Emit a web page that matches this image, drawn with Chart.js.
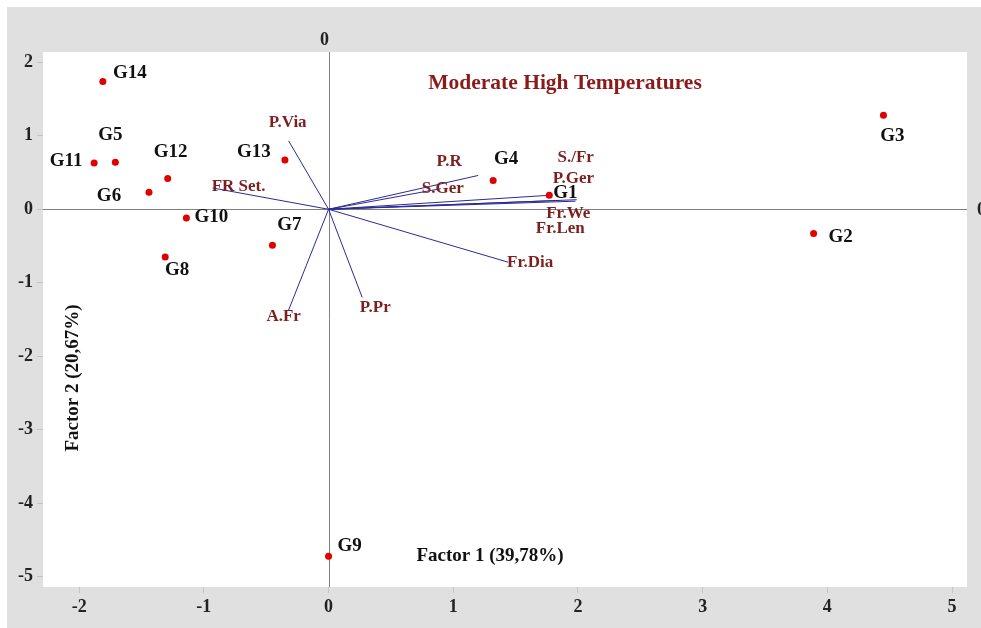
<!DOCTYPE html>
<html>
<head>
<meta charset="utf-8">
<script src="https://cdn.jsdelivr.net/npm/chart.js@4.4.1/dist/chart.umd.min.js"></script>
<style>
    body { margin: 0; background: #ffffff; }
    #wrap { position: absolute; left: 7px; top: 7px; width: 974px; height: 621px; background: #e0e0e0; }
</style>
</head>
<body>
<div id="wrap"><canvas id="biplot" width="974" height="621"></canvas></div>
<script>
/** --------------------DATA-------------------- */

const genotypes = ['G1', 'G2', 'G3', 'G4', 'G5', 'G6', 'G7', 'G8', 'G9', 'G10', 'G11', 'G12', 'G13', 'G14'];
const genoFactor1 = [1.77, 3.89, 4.45, 1.32, -1.71, -1.44, -0.45, -1.31, 0.00, -1.14, -1.88, -1.29, -0.35, -1.81];
const genoFactor2 = [0.19, -0.33, 1.28, 0.39, 0.64, 0.23, -0.49, -0.65, -4.72, -0.12, 0.63, 0.42, 0.67, 1.74];

const traits = ['P.Via', 'FR Set.', 'P.R', 'S.Ger', 'S./Fr', 'P.Ger', 'Fr.We', 'Fr.Len', 'Fr.Dia', 'A.Fr', 'P.Pr'];
const traitFactor1 = [-0.32, -0.93, 1.20, 0.90, 1.99, 1.98, 1.85, 1.77, 1.44, -0.32, 0.27];
const traitFactor2 = [0.93, 0.29, 0.46, 0.28, 0.13, 0.11, 0.12, 0.19, -0.72, -1.37, -1.20];

const xTicks = [-2, -1, 0, 1, 2, 3, 4, 5];
const yTicks = [-5, -4, -3, -2, -1, 0, 1, 2];

const titleText = 'Moderate High Temperatures';
const xTitle = 'Factor 1 (39,78%)';
const yTitle = 'Factor 2 (20,67%)';

/** label offsets in px from the marker (layout only) */
const genoLabelShift = [[16, -2], [27, 4], [9, 21], [13, -22], [-5, -27], [-40, 4], [17, -20], [12, 13], [21, -10], [25, -1], [-28, -2], [3, -26], [-31, -8], [27, -8]];
const traitLabelShift = [[-1, -18], [26, -1], [-29, -14], [2, 0], [-1, -42], [-2, -23], [9, 13], [11, 33], [22, 0], [-5, 7], [13, 10]];

/** --------------------CHART-------------------- */

const serif = "'Liberation Serif', 'Times New Roman', serif";

let genoPoints = genotypes.map((g, i) => ({x: genoFactor1[i], y: genoFactor2[i]}));

let vectorSets = traits.map((t, i) => ({
    label: t,
    data: [{x: 0, y: 0}, {x: traitFactor1[i], y: traitFactor2[i]}],
    showLine: true,
    borderColor: '#2b2b96',
    borderWidth: 1,
    pointRadius: 0,
    order: 2
}));

const biplotDecor = {
    id: 'biplotDecor',
    beforeDraw(chart) {
        const {ctx, chartArea} = chart;
        ctx.save();
        ctx.fillStyle = '#ffffff';
        ctx.fillRect(chartArea.left, chartArea.top, chartArea.right - chartArea.left, chartArea.bottom - chartArea.top);
        ctx.restore();
    },
    beforeDatasetsDraw(chart) {
        const {ctx, chartArea, scales} = chart;
        const x0 = scales.x.getPixelForValue(0);
        const y0 = scales.y.getPixelForValue(0);
        ctx.save();
        ctx.lineWidth = 1;
        ctx.strokeStyle = '#808080';
        ctx.beginPath();
        ctx.moveTo(Math.round(x0) + 0.5, chartArea.top);
        ctx.lineTo(Math.round(x0) + 0.5, chartArea.bottom);
        ctx.moveTo(chartArea.left, Math.round(y0) + 0.5);
        ctx.lineTo(chartArea.right, Math.round(y0) + 0.5);
        ctx.stroke();

        ctx.fillStyle = '#222222';
        ctx.font = 'bold 18px ' + serif;
        ctx.textAlign = 'center';
        ctx.textBaseline = 'middle';
        ctx.fillText('0', x0 - 4, chartArea.top - 12);
        ctx.textAlign = 'left';
        ctx.fillText('0', chartArea.right + 10, y0 + 1);
        ctx.restore();
    },
    afterDatasetsDraw(chart) {
        const {ctx, scales} = chart;
        ctx.save();
        ctx.textAlign = 'center';
        ctx.textBaseline = 'middle';

        ctx.fillStyle = '#7c1f1f';
        ctx.font = 'bold 17px ' + serif;
        traits.forEach((t, i) => {
            let px = scales.x.getPixelForValue(traitFactor1[i]);
            let py = scales.y.getPixelForValue(traitFactor2[i]);
            ctx.fillText(t, px + traitLabelShift[i][0], py + traitLabelShift[i][1]);
        });

        ctx.fillStyle = '#111111';
        ctx.font = 'bold 19px ' + serif;
        genotypes.forEach((g, i) => {
            let px = scales.x.getPixelForValue(genoFactor1[i]);
            let py = scales.y.getPixelForValue(genoFactor2[i]);
            ctx.fillText(g, px + genoLabelShift[i][0], py + genoLabelShift[i][1]);
        });

        ctx.fillStyle = '#8b1a1a';
        ctx.font = 'bold 21.5px ' + serif;
        ctx.fillText(titleText, 558, 76);

        ctx.fillStyle = '#111111';
        ctx.font = 'bold 19px ' + serif;
        ctx.fillText(xTitle, 483, 549);

        ctx.translate(66, 371);
        ctx.rotate(-Math.PI / 2);
        ctx.fillText(yTitle, 0, 0);
        ctx.restore();
    }
};

const ctx = document.getElementById('biplot').getContext('2d');
let biplot = new Chart(ctx, {
    type: 'scatter',
    data: {
        datasets: [
            {
                label: 'Genotypes',
                data: genoPoints,
                backgroundColor: '#e00000',
                borderWidth: 0,
                pointRadius: 3.5,
                order: 1
            },
            ...vectorSets
        ]
    },
    options: {
        responsive: false,
        animation: false,
        devicePixelRatio: 1,
        layout: {
            padding: {top: 45, right: 14, left: 0, bottom: 0}
        },
        plugins: {
            legend: {display: false},
            tooltip: {enabled: false}
        },
        scales: {
            x: {
                type: 'linear',
                min: -2.29,
                max: 5.12,
                afterFit: function (scale) {
                    scale.height = 41;
                },
                afterBuildTicks: function (scale) {
                    scale.ticks = xTicks.map(v => ({value: v}));
                },
                border: {display: false},
                grid: {drawOnChartArea: false, drawTicks: true, tickLength: 6, color: '#c4c4c4'},
                ticks: {
                    color: '#222222',
                    padding: 4,
                    font: {family: serif, size: 18, weight: 'bold'}
                }
            },
            y: {
                type: 'linear',
                min: -5.14,
                max: 2.14,
                afterFit: function (scale) {
                    scale.width = 36;
                },
                afterBuildTicks: function (scale) {
                    scale.ticks = yTicks.map(v => ({value: v}));
                },
                border: {display: false},
                grid: {drawOnChartArea: false, drawTicks: true, tickLength: 6, color: '#c4c4c4'},
                ticks: {
                    color: '#222222',
                    padding: 4,
                    font: {family: serif, size: 18, weight: 'bold'}
                }
            }
        }
    },
    plugins: [biplotDecor]
});
</script>
</body>
</html>
